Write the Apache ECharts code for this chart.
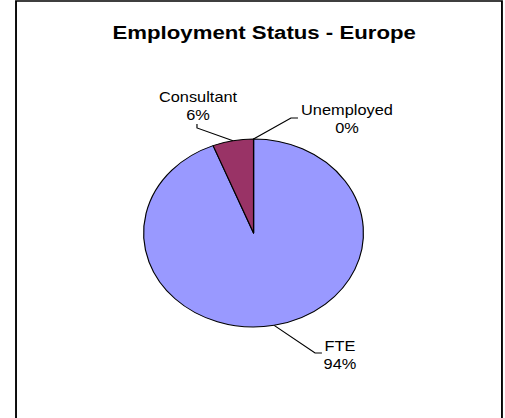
<!DOCTYPE html>
<html>
<head>
<meta charset="utf-8">
<script src="https://cdn.jsdelivr.net/npm/echarts@6/dist/echarts.min.js"></script>
<style>
  html, body { margin: 0; padding: 0; background: #ffffff; overflow: hidden; }
  #wrap { width: 505px; height: 418px; overflow: hidden; position: relative; }
  #chart { width: 432px; height: 418px; transform: scaleX(1.16898); transform-origin: 0 0; }
</style>
</head>
<body>
<div id="wrap"><div id="chart"></div></div>
<script>
// ---- data ----
const titleText = 'Employment Status - Europe';
const categories = ['FTE', 'Consultant', 'Unemployed'];
const values = [94, 6, 0];
const sliceColors = ['#9999FF', '#993366', '#FFFFCC'];

// ---- label placement (layout only, unscaled coordinates) ----
const labelPlacement = [
  { x: 290.8, y: 354.5, bend: [[269.5, 353], [275.4, 353]] },   // FTE
  { x: 169.4, y: 105.5, bend: [[168.5, 128], [168.5, 124]] },   // Consultant
  { x: 296.8, y: 118.5, bend: [[248.9, 118], [254.9, 118]] }    // Unemployed
];

const chart = echarts.init(document.getElementById('chart'), null, { renderer: 'svg' });

const pieData = categories.map((name, i) => ({
  name: name,
  value: values[i],
  itemStyle: { color: sliceColors[i] }
}));

chart.setOption({
  animation: false,
  backgroundColor: '#ffffff',
  title: {
    text: titleText,
    left: 221,
    top: 18,
    textAlign: 'center',
    textStyle: {
      fontFamily: 'Liberation Sans, Arial, sans-serif',
      fontSize: 19,
      fontWeight: 'bold',
      color: '#000000'
    }
  },
  graphic: [{
    type: 'rect',
    shape: { x: 13.7, y: 1, width: 415.7, height: 440 },
    style: { fill: 'none', stroke: '#000000', lineWidth: 1.6 },
    silent: true,
    z: 10
  }],
  series: [{
    type: 'pie',
    center: [216.9, 233],
    radius: 94,
    startAngle: 90,
    clockwise: true,
    avoidLabelOverlap: false,
    minShowLabelAngle: 0,
    itemStyle: { borderColor: '#000000', borderWidth: 1 },
    emphasis: { disabled: true },
    label: {
      show: true,
      position: 'outside',
      formatter: '{b}\n{d}%',
      color: '#000000',
      fontFamily: 'Liberation Sans, Arial, sans-serif',
      fontSize: 14,
      lineHeight: 18,
      align: 'center'
    },
    labelLine: {
      show: true,
      length: 20,
      length2: 6,
      lineStyle: { color: '#000000', width: 1 }
    },
    labelLayout: function (params) {
      const p = labelPlacement[params.dataIndex];
      const start = params.labelLinePoints ? params.labelLinePoints[0] : null;
      const out = { x: p.x, y: p.y, align: 'center', verticalAlign: 'middle' };
      if (start) out.labelLinePoints = [start.slice ? start.slice() : start, p.bend[0], p.bend[1]];
      return out;
    },
    data: pieData
  }]
});
</script>
</body>
</html>
